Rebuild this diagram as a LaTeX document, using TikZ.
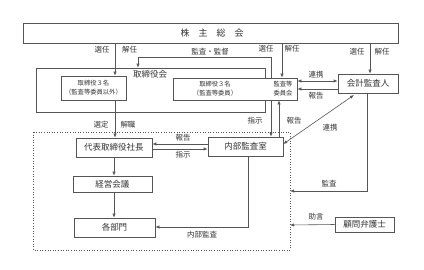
\documentclass[tikz,border=0pt]{standalone}
\usepackage{fontspec}
\setmainfont{Noto Sans CJK JP}
\usetikzlibrary{arrows.meta}
\definecolor{ln}{HTML}{555555}
\definecolor{tx}{HTML}{333333}
\tikzset{
  bx/.style={draw=ln, line width=0.6pt, fill=white, text=tx, inner sep=0pt, font=\fontsize{8.5}{10}\selectfont},
  lbl/.style={text=tx, inner sep=0pt, font=\fontsize{7.5}{9}\selectfont},
  sm/.style={text=tx, inner sep=0pt, align=center, font=\fontsize{6.3}{9}\selectfont},
  ar/.style={draw=ln, line width=0.6pt, -{Latex[length=4pt,width=3.2pt]}},
  dar/.style={draw=ln, line width=0.6pt, {Latex[length=4pt,width=3.2pt]}-{Latex[length=4pt,width=3.2pt]}},
  ln/.style={draw=ln, line width=0.6pt},
}
\begin{document}
\begin{tikzpicture}[x=1pt,y=-1pt]
\useasboundingbox (0,0) rectangle (424,269);
% boxes
\node[bx, minimum width=375pt, minimum height=20pt, font=\fontsize{9}{10}\selectfont] (kabu) at (210.5,33) {};
\node[text=tx, font=\fontsize{9}{10}\selectfont] at (212,33) {株　主　総　会};
\node[draw=ln, line width=0.6pt, minimum width=229pt, minimum height=44pt, inner sep=0pt] (board) at (150.5,90) {};
\node[lbl, font=\fontsize{8.5}{10}\selectfont] (boardlbl) at (150,74.5) {取締役会};
\node[bx, minimum width=65pt, minimum height=24pt] (dir1) at (93.5,88) {};
\node[sm] at (93.5,88) {取締役３名\\（監査等委員以外）};
\node[bx, minimum width=124pt, minimum height=22pt] (dir2) at (235,89) {};
\node[sm] (dir2a) at (215,89) {取締役３名\\（監査等委員）};
\node[sm] (dir2b) at (283,89) {監査等\\委員会};
\node[bx, minimum width=60pt, minimum height=19pt] (kaikei) at (368,83.5) {会計監査人};
\draw[ln, dotted, line width=0.6pt] (33,132) rectangle (290,250);
\node[bx, minimum width=76pt, minimum height=19pt] (ceo) at (114,147.5) {代表取締役社長};
\node[bx, minimum width=79pt, minimum height=16pt] (keiei) at (112.5,184) {経営会議};
\node[bx, minimum width=81pt, minimum height=19pt] (bumon) at (114.5,227.5) {各部門};
\node[bx, minimum width=75pt, minimum height=19pt] (naibu) at (245.5,146.5) {内部監査室};
\node[bx, minimum width=59pt, minimum height=15pt] (komon) at (364.5,224.5) {顧問弁護士};
% coordinates
\coordinate (dotR1) at (290,191);
\coordinate (dotR2) at (290,225);
% connectors
\draw[ar] (kabu.south -| 115,0) -- (dir1.north -| 115,0);
\node[lbl] at (102,50) {選任};
\node[lbl] at (129.5,50) {解任};
\draw[ar] (dir2.north -| 271,0) -- (271,57) -- (138,57) -- (board.north -| 138,0);
\node[lbl] at (210,52) {監査・監督};
\draw[ar] (kabu.south -| 282,0) -- (dir2.north -| 282,0);
\node[lbl] at (266,49) {選任};
\node[lbl] at (292,49) {解任};
\draw[ar] (kabu.south -| 370,0) -- (kaikei.north -| 370,0);
\node[lbl] at (357,52) {選任};
\node[lbl] at (382,52) {解任};
\draw[dar] (dir2.east |- 0,81) -- (kaikei.west |- 0,81);
\node[lbl] at (316,75) {連携};
\draw[ar] (kaikei.west |- 0,89) -- (dir2.east |- 0,89);
\node[lbl] at (316,96) {報告};
\draw[ar] (dir2.south -| 271,0) -- (naibu.north -| 271,0);
\node[lbl] at (255,121) {指示};
\draw[ar] (naibu.north -| 279,0) -- (dir2.south -| 279,0);
\node[lbl] at (294,121) {報告};
\draw[dar] (naibu.east |- 0,144) -- (354,95);
\node[lbl] at (330,128) {連携};
\draw[ar] (dir1.south -| 115,0) -- (ceo.north -| 115,0);
\node[lbl] at (101,125) {選定};
\node[lbl] at (128,125) {解職};
\draw[ar] (naibu.west |- 0,144) -- (ceo.east |- 0,144);
\node[lbl] at (183,138) {報告};
\draw[ar] (ceo.east |- 0,149) -- (naibu.west |- 0,149);
\node[lbl] at (183,155) {指示};
\draw[ar] (ceo.south -| 114,0) -- (keiei.north -| 114,0);
\draw[ar] (keiei.south -| 114,0) -- (bumon.north -| 114,0);
\draw[ar] (naibu.south -| 248,0) -- (248,227) -- (bumon.east |- 0,227);
\node[lbl] at (202,235) {内部監査};
\draw[ar] (kaikei.south -| 367,0) -- (367,191) -- (dotR1);
\node[lbl] at (329,184) {監査};
\draw[ar] (komon.west) -- (dotR2);
\node[lbl] at (316,217) {助言};
\end{tikzpicture}
\end{document}
